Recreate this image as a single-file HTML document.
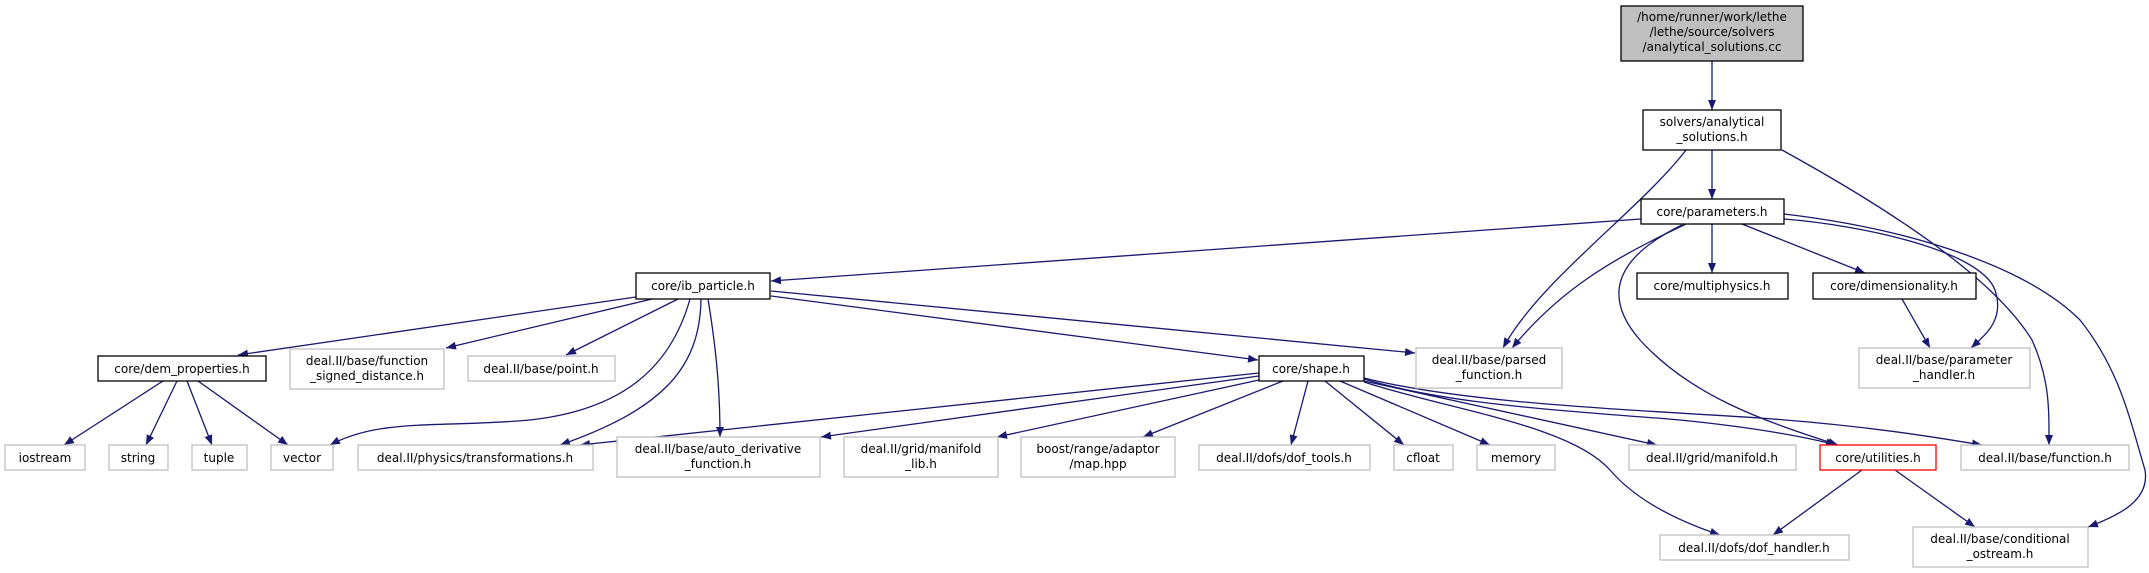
<!DOCTYPE html>
<html><head><meta charset="utf-8"><style>
html,body{margin:0;padding:0;background:#fff;}
svg{display:block;}
text{font-family:"DejaVu Sans","Liberation Sans",sans-serif;font-size:12px;fill:#000;text-anchor:middle;}
.d{fill:#fff;stroke:#000;stroke-width:1.3;}
.u{fill:#fff;stroke:#bfbfbf;stroke-width:1.3;}
.e{fill:none;stroke:#191970;stroke-width:1.3;}
</style></head><body>
<svg width="2149" height="573" viewBox="0 0 2149 573" xmlns="http://www.w3.org/2000/svg">
<defs><marker id="a" viewBox="0 0 10 8" refX="10" refY="4" markerWidth="10" markerHeight="8" markerUnits="userSpaceOnUse" orient="auto"><path d="M0,0L10,4L0,8z" fill="#191970"/></marker></defs>
<g marker-end="url(#a)">
<path class="e" d="M1712,61L1712,110"/>
<path class="e" d="M1712,150L1712,199"/>
<path class="e" d="M1686,150C1640,210 1540,280 1503,348"/>
<path class="e" d="M1782,150C1900,215 1995,280 2032,340C2050,380 2049,410 2049,445"/>
<path class="e" d="M1641,219L771,281"/>
<path class="e" d="M1686,224C1610,260 1560,290 1512,348"/>
<path class="e" d="M1682,225C1610,260 1605,300 1640,340C1690,395 1760,420 1838,445"/>
<path class="e" d="M1712,224L1712,273"/>
<path class="e" d="M1742,224L1865,273"/>
<path class="e" d="M1784,219C1860,225 1980,250 1995,290C2005,320 1985,335 1971,348"/>
<path class="e" d="M1784,214C1920,230 2030,270 2080,320C2120,370 2130,420 2145,470C2150,500 2120,515 2088,527"/>
<path class="e" d="M1902,299L1930,348"/>
<path class="e" d="M1862,470L1773,535"/>
<path class="e" d="M1895,470L1975,527"/>
<path class="e" d="M636,297L238,355"/>
<path class="e" d="M652,299L446,348"/>
<path class="e" d="M678,299L566,355"/>
<path class="e" d="M690,299C670,370 620,410 530,420C440,428 380,418 330,445"/>
<path class="e" d="M701,299C700,370 660,410 560,445"/>
<path class="e" d="M708,299C718,360 720,400 720,437"/>
<path class="e" d="M771,296L1258,360"/>
<path class="e" d="M771,291L1415,353"/>
<path class="e" d="M163,381L64,445"/>
<path class="e" d="M177,381L146,445"/>
<path class="e" d="M187,381L212,445"/>
<path class="e" d="M198,381L288,445"/>
<path class="e" d="M1259,373L580,445"/>
<path class="e" d="M1259,376L821,437"/>
<path class="e" d="M1259,380L997,437"/>
<path class="e" d="M1283,381L1143,437"/>
<path class="e" d="M1308,381L1291,445"/>
<path class="e" d="M1325,381L1404,445"/>
<path class="e" d="M1340,381L1490,445"/>
<path class="e" d="M1364,381L1657,445"/>
<path class="e" d="M1364,379C1450,405 1560,410 1680,420C1760,428 1810,438 1836,445"/>
<path class="e" d="M1364,378C1460,402 1600,408 1760,418C1870,426 1940,438 1982,445"/>
<path class="e" d="M1364,382C1450,410 1570,425 1610,470C1640,505 1690,525 1720,535"/>
</g>
<rect x="1621" y="6" width="182" height="55" fill="#bfbfbf" stroke="#000" stroke-width="1.3"/>
<text x="1712" y="21">/home/runner/work/lethe</text><text x="1712" y="36">/lethe/source/solvers</text><text x="1712" y="51">/analytical_solutions.cc</text>
<rect class="d" x="1643" y="110" width="138" height="40"/><text x="1712" y="126">solvers/analytical</text><text x="1712" y="141">_solutions.h</text>
<rect class="d" x="1641" y="199" width="143" height="25"/><text x="1712" y="216">core/parameters.h</text>
<rect class="d" x="1637" y="273" width="151" height="26"/><text x="1712" y="290">core/multiphysics.h</text>
<rect class="d" x="1813" y="273" width="163" height="26"/><text x="1894" y="290">core/dimensionality.h</text>
<rect class="u" x="1416" y="348" width="146" height="40"/><text x="1489" y="364">deal.II/base/parsed</text><text x="1489" y="379">_function.h</text>
<rect class="u" x="1859" y="348" width="171" height="40"/><text x="1944" y="364">deal.II/base/parameter</text><text x="1944" y="379">_handler.h</text>
<rect class="d" x="636" y="273" width="134" height="26"/><text x="703" y="290">core/ib_particle.h</text>
<rect class="d" x="98" y="356" width="168" height="25"/><text x="182" y="373">core/dem_properties.h</text>
<rect class="u" x="290" y="349" width="154" height="40"/><text x="367" y="365">deal.II/base/function</text><text x="367" y="380">_signed_distance.h</text>
<rect class="u" x="468" y="356" width="147" height="25"/><text x="541" y="373">deal.II/base/point.h</text>
<rect class="d" x="1259" y="356" width="105" height="25"/><text x="1311" y="373">core/shape.h</text>
<rect class="u" x="5" y="445" width="80" height="25"/><text x="45" y="462">iostream</text>
<rect class="u" x="109" y="445" width="59" height="25"/><text x="138" y="462">string</text>
<rect class="u" x="192" y="445" width="55" height="25"/><text x="219" y="462">tuple</text>
<rect class="u" x="271" y="445" width="62" height="25"/><text x="302" y="462">vector</text>
<rect class="u" x="358" y="445" width="235" height="25"/><text x="475" y="462">deal.II/physics/transformations.h</text>
<rect class="u" x="617" y="437" width="203" height="40"/><text x="718" y="453">deal.II/base/auto_derivative</text><text x="718" y="468">_function.h</text>
<rect class="u" x="844" y="437" width="154" height="40"/><text x="921" y="453">deal.II/grid/manifold</text><text x="921" y="468">_lib.h</text>
<rect class="u" x="1021" y="437" width="154" height="40"/><text x="1098" y="453">boost/range/adaptor</text><text x="1098" y="468">/map.hpp</text>
<rect class="u" x="1199" y="445" width="171" height="25"/><text x="1284" y="462">deal.II/dofs/dof_tools.h</text>
<rect class="u" x="1394" y="445" width="59" height="25"/><text x="1423" y="462">cfloat</text>
<rect class="u" x="1477" y="445" width="78" height="25"/><text x="1516" y="462">memory</text>
<rect class="u" x="1629" y="445" width="167" height="25"/><text x="1712" y="462">deal.II/grid/manifold.h</text>
<rect x="1820" y="445" width="116" height="25" fill="#fff" stroke="#ff0000" stroke-width="1.3"/><text x="1878" y="462">core/utilities.h</text>
<rect class="u" x="1961" y="445" width="168" height="25"/><text x="2045" y="462">deal.II/base/function.h</text>
<rect class="u" x="1660" y="535" width="189" height="25"/><text x="1754" y="552">deal.II/dofs/dof_handler.h</text>
<rect class="u" x="1913" y="527" width="175" height="40"/><text x="2000" y="543">deal.II/base/conditional</text><text x="2000" y="558">_ostream.h</text>
</svg>
</body></html>
